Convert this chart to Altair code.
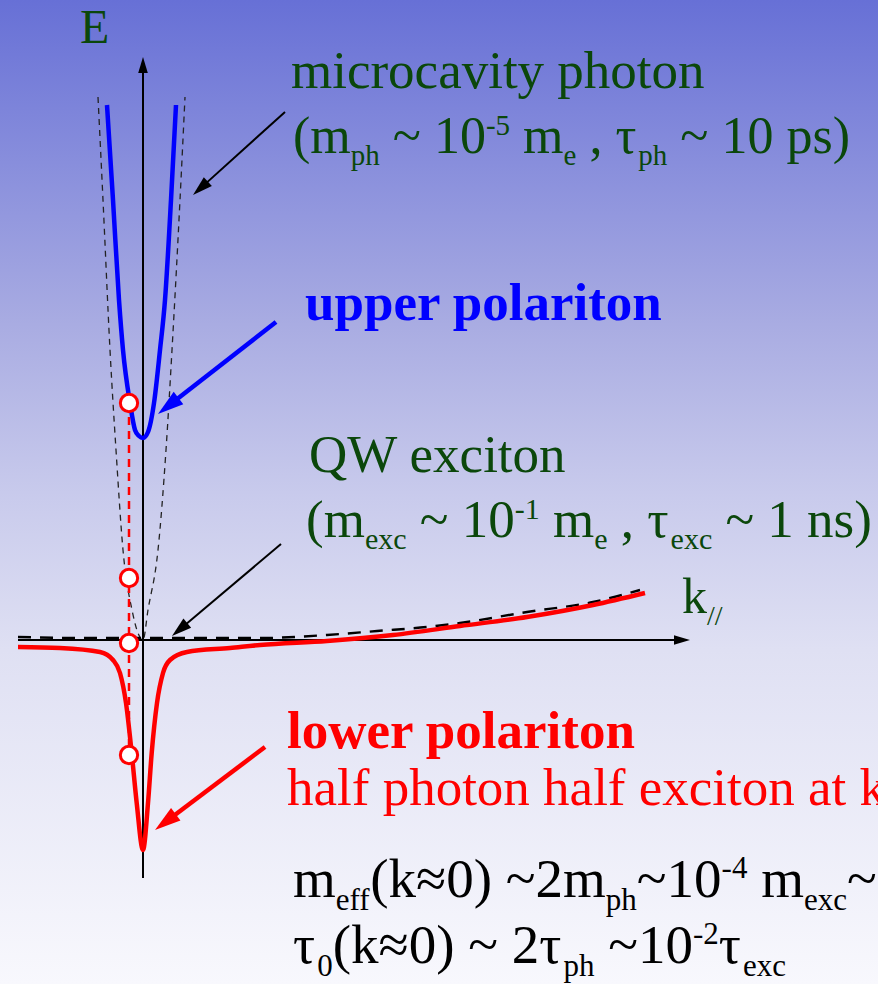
import math
import altair as alt
import pandas as pd

W, H = 878, 984
# data coordinates: k (in-plane wavevector, arbitrary units), E (energy, arbitrary units)
K_DOMAIN = [-143, 735]
E_DOMAIN = [-344, 640]

# ---------------- dispersion curves ----------------
UP_K = [-36, -30, -24, -20, -13, -8, -4, 0, 5, 11, 17, 22, 28, 33]
UP_E = [535, 440, 340, 290, 237, 210, 204, 202, 208, 237, 290, 340, 440, 535]

LP_K = [-125, -83, -43, -30, -23, -17, -11.3, -6.3, 0, 5, 8.7, 14, 20, 27, 44, 87, 117, 184, 250, 317, 384, 450, 502]
LP_E = [-7, -8, -12, -20, -33, -63, -113, -163, -210, -163, -113, -63, -33, -20, -12, -8, -5, -1, 5, 14, 23, 35, 47]

PH_K = [-45, -40, -33, -27, -20, -11, 0, 5, 15, 23, 29, 37, 42]
PH_E = [543, 440, 290, 190, 90, 30, 0, 30, 90, 190, 290, 440, 543]

EX_K = [-125, -60, 0, 117, 184, 234, 284, 317, 384, 450, 497]
EX_E = [3, 2, 2, 2, 5, 9, 13, 17, 28, 38, 50]

# Hopfield decomposition markers at one k
MARK_K = -14
MARK_E = [237, 62, -3, -115]

# ---------------- arrows ----------------
ARROW_NAME = ["E axis", "k axis", "photon", "upper", "exciton", "lower"]
ARROW_K0 = [0, -125, 142, 133, 138, 122]
ARROW_E0 = [-238, 0, 528, 318, 96, -107]
ARROW_K1 = [0, 547, 50, 15, 29, 12]
ARROW_E1 = [583, 0, 445, 226, 4, -190]
ARROW_COLOR = ["black", "black", "black", "#0000ff", "black", "#ff0000"]
ARROW_WIDTH = [2, 2, 2, 4.5, 2, 4.5]
ARROW_HEAD = [16, 16, 20, 26, 20, 26]

# ---------------- text ----------------
GREEN = "#0b470b"
TXT_E = "E"
TXT_MC = "microcavity photon"
LINE_B = [("(m", "n"), ("ph", "sub"), (" ~ 10", "n"), ("-5", "sup"), (" m", "n"), ("e", "sub"),
          (" , τ", "n"), ("ph", "sub"), (" ~ 10 ps)", "n")]
TXT_UP = "upper polariton"
TXT_QW = "QW exciton"
LINE_E = [("(m", "n"), ("exc", "sub"), (" ~ 10", "n"), ("-1", "sup"), (" m", "n"), ("e", "sub"),
          (" , τ", "n"), ("exc", "sub"), (" ~ 1 ns)", "n")]
LINE_K = [("k", "n"), ("//", "sub")]
TXT_LP = "lower polariton"
TXT_HALF = "half photon half exciton at k"
LINE_I = [("m", "n"), ("eff", "sub"), ("(k≈0) ~2m", "n"), ("ph", "sub"), ("~10", "n"), ("-4", "sup"),
          (" m", "n"), ("exc", "sub"), ("~", "n")]
LINE_J = [("τ", "n"), ("0", "sub"), ("(k≈0) ~ 2τ", "n"), ("ph", "sub"), (" ~10", "n"), ("-2", "sup"),
          ("τ", "n"), ("exc", "sub")]

REG = {' ': 250, '(': 333, ')': 333, ',': 250, '-': 333, '~': 541, '≈': 549, 'τ': 440, '/': 278, '=': 564,
       'E': 611, 'Q': 722, 'W': 944,
       'a': 444, 'b': 500, 'c': 444, 'd': 500, 'e': 444, 'f': 333, 'g': 500, 'h': 500, 'i': 278, 'j': 278,
       'k': 500, 'l': 278, 'm': 778, 'n': 500, 'o': 500, 'p': 500, 'q': 500, 'r': 333, 's': 389, 't': 278,
       'u': 500, 'v': 500, 'w': 722, 'x': 500, 'y': 500, 'z': 444}
for d in "0123456789":
    REG[d] = 500

S_MAIN = 52
S_SUB = 29


def tw(s):
    return sum(REG.get(c, 500) for c in s) / 1000.0


def layout(segs, k0, e0, color, S=S_MAIN, s=S_SUB, dsub=-12, dsup=18):
    """Place each run after the previous one; leading spaces become an x offset
    (the renderer trims whitespace at the ends of a string)."""
    rows = []
    x = k0
    for txt, kind in segs:
        size = S if kind == "n" else s
        dy = 0 if kind == "n" else (dsub if kind == "sub" else dsup)
        lead = len(txt) - len(txt.lstrip(" "))
        rows.append(dict(k=x + tw(" " * lead) * size, E=e0 + dy, t=txt.strip(" "), size=size, c=color))
        x += tw(txt) * size
    return rows


reg_rows = []
reg_rows += layout([(TXT_E, "n")], -63, 597, GREEN, S=48)
reg_rows += layout([(TXT_MC, "n")], 148, 552, GREEN, S=53)
reg_rows += layout(LINE_B, 150, 487, GREEN)
reg_rows += layout([(TXT_QW, "n")], 166, 168, GREEN, S=53)
reg_rows += layout(LINE_E, 163, 103, GREEN, S=53, s=30)
reg_rows += layout(LINE_K, 539, 27, GREEN, S=50, s=28)
reg_rows += layout([(TXT_HALF, "n")], 144, -165, "#ff0000", S=53)
reg_rows += layout(LINE_I, 150, -257, "black", S=55, s=31, dsub=-13, dsup=19)
reg_rows += layout(LINE_J, 150, -323, "black", S=55, s=31, dsub=-13, dsup=19)
reg_df = pd.DataFrame(reg_rows)

bold_df = pd.DataFrame([
    dict(k=162, E=320, t=TXT_UP, size=53, c="#0000ff"),
    dict(k=144, E=-108, t=TXT_LP, size=53, c="#ff0000"),
])

# ---------------- scales ----------------
xs = alt.Scale(domain=K_DOMAIN, range=[0, W], nice=False, zero=False)
ys = alt.Scale(domain=E_DOMAIN, range=[H, 0], nice=False, zero=False)
X = alt.X("k:Q", scale=xs, axis=None)
Y = alt.Y("E:Q", scale=ys, axis=None)

# background gradient
bg = alt.Chart(pd.DataFrame({"a": [0]})).mark_rect(
    color=alt.Gradient(
        gradient="linear",
        stops=[
            alt.GradientStop(color="#6770d6", offset=0),
            alt.GradientStop(color="#a9ace2", offset=0.33),
            alt.GradientStop(color="#c8caec", offset=0.5),
            alt.GradientStop(color="#dfe0f3", offset=0.66),
            alt.GradientStop(color="#f8f8fd", offset=1),
        ],
        x1=0, x2=0, y1=0, y2=1,
    )
).encode(x=alt.value(0), x2=alt.value(W), y=alt.value(0), y2=alt.value(H))

ph = alt.Chart(pd.DataFrame({"k": PH_K, "E": PH_E})).mark_line(
    color="#222222", strokeWidth=1.3, strokeDash=[6, 5], interpolate="monotone"
).encode(x=X, y=Y)

ex = alt.Chart(pd.DataFrame({"k": EX_K, "E": EX_E})).mark_line(
    color="black", strokeWidth=2.4, strokeDash=[13, 9], interpolate="monotone"
).encode(x=X, y=Y)

# arrows
arr_rows = []
for i, n in enumerate(ARROW_NAME):
    k0, e0, k1, e1 = ARROW_K0[i], ARROW_E0[i], ARROW_K1[i], ARROW_E1[i]
    dk, de = k1 - k0, e1 - e0
    ln = math.hypot(dk, de)
    L = ARROW_HEAD[i]
    arr_rows.append(dict(
        name=n, k=k0, E=e0, k2=k1 - dk / ln * L * 0.7, E2=e1 - de / ln * L * 0.7,
        kt=k1, Et=e1, ang=math.degrees(math.atan2(dk, de)) % 360,
        size=4 * L * L, col=ARROW_COLOR[i], sw=ARROW_WIDTH[i],
    ))
arr_df = pd.DataFrame(arr_rows)

shafts = alt.Chart(arr_df).mark_rule(strokeCap="butt").encode(
    x=X, y=Y,
    x2="k2:Q", y2="E2:Q",
    color=alt.Color("col:N", scale=None),
    strokeWidth=alt.StrokeWidth("sw:Q", scale=None),
)
heads = alt.Chart(arr_df).mark_point(
    shape="M0,0L-0.3,1L0.3,1Z", filled=True, opacity=1, strokeWidth=0
).encode(
    x=alt.X("kt:Q", scale=xs, axis=None), y=alt.Y("Et:Q", scale=ys, axis=None),
    angle=alt.Angle("ang:Q", scale=None),
    size=alt.Size("size:Q", scale=None),
    color=alt.Color("col:N", scale=None),
)

AXES = ["E axis", "k axis"]
POINTERS = ["photon", "upper", "exciton", "lower"]

up = alt.Chart(pd.DataFrame({"k": UP_K, "E": UP_E})).mark_line(
    color="#0000ff", strokeWidth=4.5, interpolate="monotone"
).encode(x=X, y=Y)

lp = alt.Chart(pd.DataFrame({"k": LP_K, "E": LP_E})).mark_line(
    color="#ff0000", strokeWidth=4.5, interpolate="monotone"
).encode(x=X, y=Y)

vdash = alt.Chart(pd.DataFrame({"k": [MARK_K], "E": [max(MARK_E)], "E2": [min(MARK_E)]})).mark_rule(
    color="#ff0000", strokeWidth=2.5, strokeDash=[8, 6]
).encode(x=X, y=Y, y2="E2:Q")

marks = alt.Chart(pd.DataFrame({"k": [MARK_K] * len(MARK_E), "E": MARK_E})).mark_point(
    shape="circle", filled=False, fill="white", stroke="#ff0000", strokeWidth=3, size=300, opacity=1
).encode(x=X, y=Y)

txt_reg = alt.Chart(reg_df).mark_text(
    font="Liberation Serif", align="left", baseline="alphabetic", clip=True
).encode(
    x=X, y=Y, text="t:N",
    size=alt.Size("size:Q", scale=None),
    color=alt.Color("c:N", scale=None),
)
txt_bold = alt.Chart(bold_df).mark_text(
    font="Liberation Serif", fontWeight="bold", align="left", baseline="alphabetic", clip=True
).encode(
    x=X, y=Y, text="t:N",
    size=alt.Size("size:Q", scale=None),
    color=alt.Color("c:N", scale=None),
)

chart = alt.layer(
    bg,
    ph, ex,
    shafts.transform_filter(alt.FieldOneOfPredicate(field="name", oneOf=AXES)),
    heads.transform_filter(alt.FieldOneOfPredicate(field="name", oneOf=AXES)),
    lp, up, vdash, marks,
    shafts.transform_filter(alt.FieldOneOfPredicate(field="name", oneOf=POINTERS)),
    heads.transform_filter(alt.FieldOneOfPredicate(field="name", oneOf=POINTERS)),
    txt_reg, txt_bold,
).properties(
    width=W, height=H, padding=0,
    autosize=alt.AutoSizeParams(type="none"),
    background="white",
).configure_view(stroke=None)

chart.save("out.html", embed_options={"renderer": "svg", "actions": False})
